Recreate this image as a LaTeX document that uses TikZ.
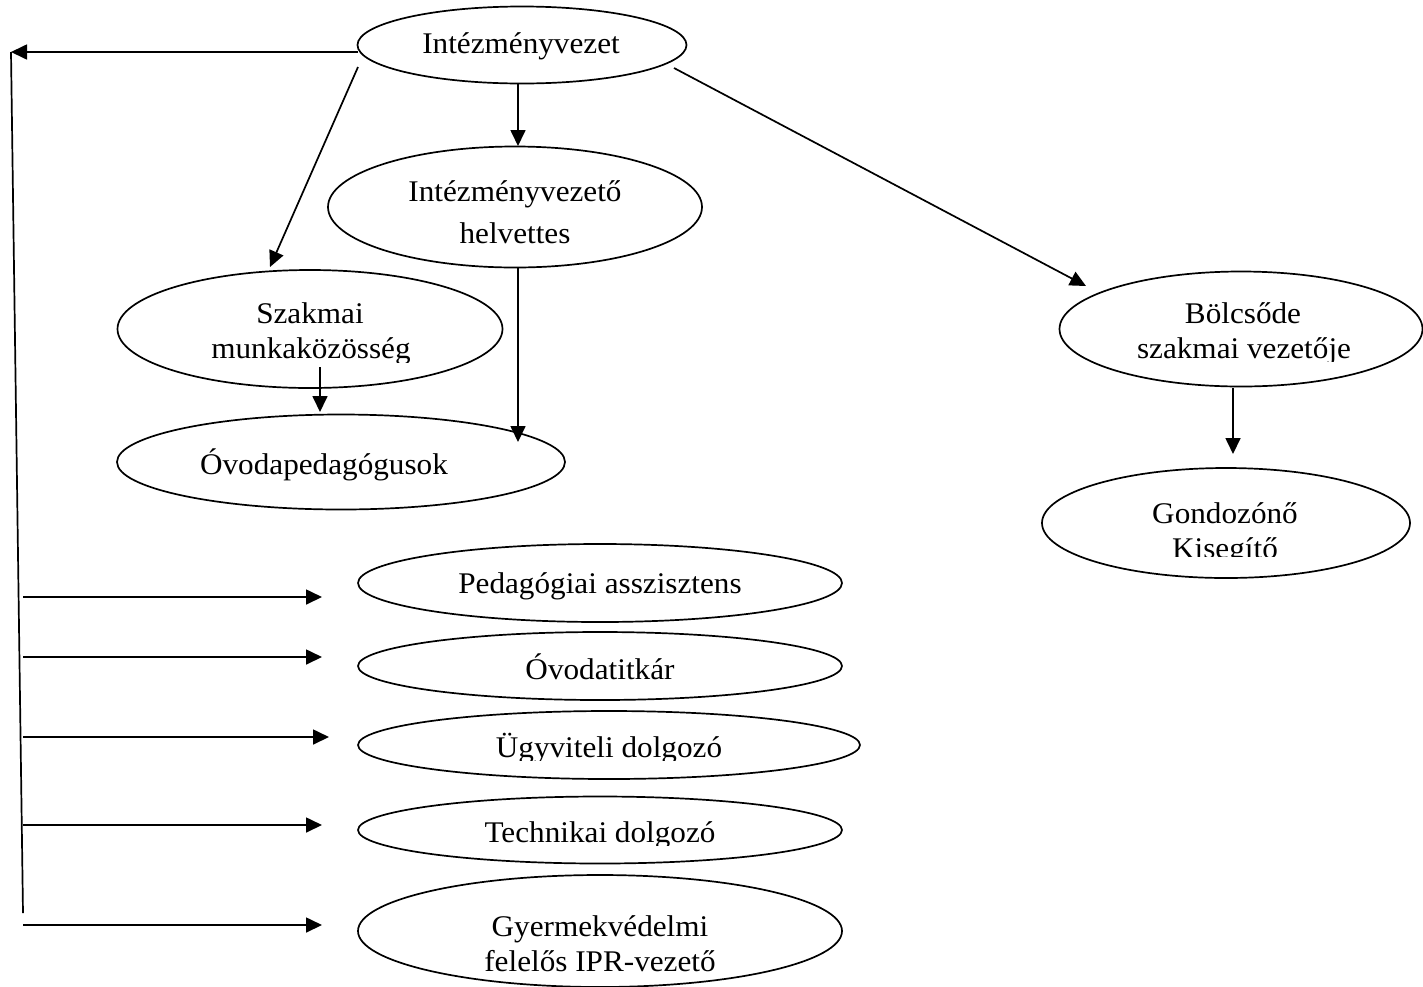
\documentclass[tikz,border=0pt]{standalone}
\usepackage{fontspec}
\setmainfont{Liberation Serif}[FakeStretch=1.04]
\usetikzlibrary{shapes.geometric,arrows.meta}
\begin{document}
\begin{tikzpicture}[x=1pt,y=-1pt,
  ell/.style={draw, ellipse, line width=1.7pt, inner sep=0pt},
  lbl/.style={anchor=base, font=\fontsize{30}{36}\selectfont, inner sep=0pt},
  conn/.style={line width=1.7pt},
  arr/.style={conn, -{Triangle[length=16pt,width=15pt]}}]
\useasboundingbox (0,0) rectangle (1423,986);

% ellipses
\node[ell, minimum width=329pt, minimum height=77pt]  (ivez)  at (522,45)  {};
\node[ell, minimum width=374pt, minimum height=121pt] (helv)  at (515,207) {};
\node[ell, minimum width=385pt, minimum height=118pt] (szak)  at (310,329) {};
\node[ell, minimum width=448pt, minimum height=95pt]  (ovped) at (341,462) {};
\node[ell, minimum width=363pt, minimum height=115pt] (bolcs) at (1241,329) {};
\node[ell, minimum width=368pt, minimum height=110pt] (gond)  at (1226,523) {};
\node[ell, minimum width=484pt, minimum height=78pt]  (ped)   at (600,583) {};
\node[ell, minimum width=484pt, minimum height=68pt]  (titk)  at (600,666) {};
\node[ell, minimum width=502pt, minimum height=68pt]  (ugyv)  at (609,745) {};
\node[ell, minimum width=484pt, minimum height=67pt]  (tech)  at (600,830) {};
\node[ell, minimum width=484pt, minimum height=112pt] (gyer)  at (600,931) {};

% labels
\node[lbl] (t-ivez) at (521,53) {Intézményvezet};
\node[lbl] (t-helv1) at (515,201) {Intézményvezető};
\begin{scope}
  \clip (380,215) rectangle (650,246);
  \node[lbl] (t-helv2) at (515,243) {helvettes};
\end{scope}
\node[lbl] (t-szak1) at (310,323) {Szakmai};
\begin{scope}
  \clip (180,330) rectangle (440,362);
  \node[lbl] (t-szak2) at (311,358) {munkaközösség};
\end{scope}
\node[lbl] (t-ovped) at (324,474) {Óvodapedagógusok};
\node[lbl] (t-bolcs1) at (1243,323) {Bölcsőde};
\begin{scope}
  \clip (1100,330) rectangle (1420,361);
  \node[lbl] (t-bolcs2) at (1244,358) {szakmai vezetője};
\end{scope}
\node[lbl] (t-gond1) at (1225,523) {Gondozónő};
\begin{scope}
  \clip (1120,530) rectangle (1340,556);
  \node[lbl] (t-gond2) at (1225,558) {Kisegítő};
\end{scope}
\node[lbl] (t-ped) at (600,593) {Pedagógiai asszisztens};
\node[lbl] (t-titk) at (600,679) {Óvodatitkár};
\begin{scope}
  \clip (440,725) rectangle (780,760);
  \node[lbl] (t-ugyv) at (609,757) {Ügyviteli dolgozó};
\end{scope}
\begin{scope}
  \clip (440,805) rectangle (780,845);
  \node[lbl] (t-tech) at (600,842) {Technikai dolgozó};
\end{scope}
\node[lbl] (t-gyer1) at (600,936) {Gyermekvédelmi};
\node[lbl] (t-gyer2) at (600,971) {felelős IPR-vezető};

% connector end points
\coordinate (lt) at (358,52);
\coordinate (lc) at (11,52);
\coordinate (lb) at (23,913);
\coordinate (a1s) at (358,67);   \coordinate (a1e) at (270,267);
\coordinate (a2s) at (518,83);   \coordinate (a2e) at (518,146);
\coordinate (a3s) at (518,268);  \coordinate (a3e) at (518,442);
\coordinate (a4s) at (320,367);  \coordinate (a4e) at (320,412);
\coordinate (a5s) at (674,68);   \coordinate (a5e) at (1086,286);
\coordinate (a6s) at (1233,388); \coordinate (a6e) at (1233,454);
\coordinate (h1s) at (23,597); \coordinate (h1e) at (322,597);
\coordinate (h2s) at (23,657); \coordinate (h2e) at (322,657);
\coordinate (h3s) at (23,737); \coordinate (h3e) at (329,737);
\coordinate (h4s) at (23,825); \coordinate (h4e) at (322,825);
\coordinate (h5s) at (23,925); \coordinate (h5e) at (322,925);

% connectors
\draw[arr] (lt) -- (lc);
\draw[conn] (lc) -- (lb);
\draw[arr] (a1s) -- (a1e);
\draw[arr] (a2s) -- (a2e);
\draw[arr] (a3s) -- (a3e);
\draw[arr] (a4s) -- (a4e);
\draw[arr] (a5s) -- (a5e);
\draw[arr] (a6s) -- (a6e);
\draw[arr] (h1s) -- (h1e);
\draw[arr] (h2s) -- (h2e);
\draw[arr] (h3s) -- (h3e);
\draw[arr] (h4s) -- (h4e);
\draw[arr] (h5s) -- (h5e);
\end{tikzpicture}
\end{document}
